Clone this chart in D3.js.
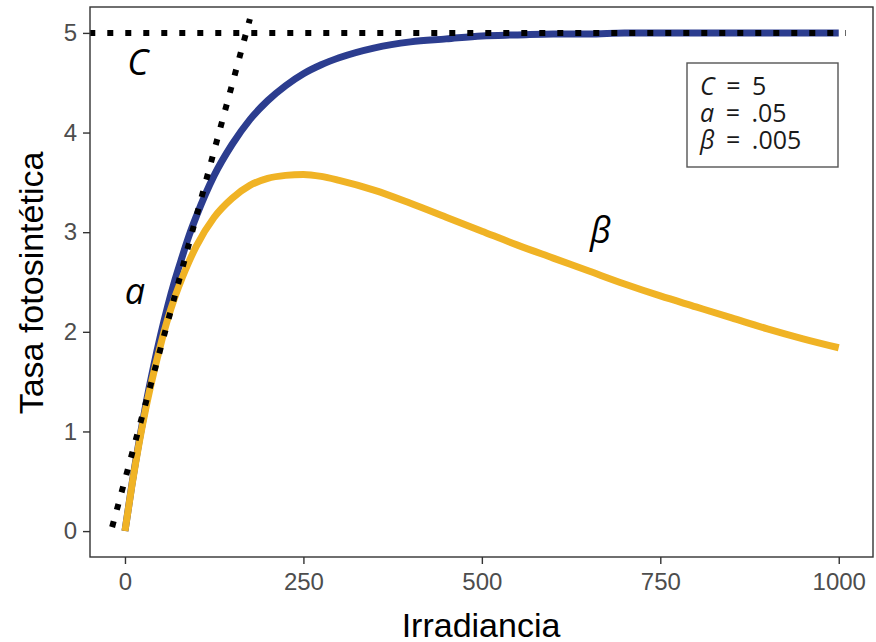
<!DOCTYPE html>
<html>
<head>
<meta charset="utf-8">
<script src="https://cdn.jsdelivr.net/npm/d3@7/dist/d3.min.js"></script>
<style>
  body { margin: 0; background: #fff; }
  svg { display: block; }
</style>
</head>
<body>
<svg width="876" height="642"></svg>
<script>
// irradiance values and the two curves
var irr = [0, 10, 20, 30, 40, 50, 60, 70, 80, 90, 100, 125, 150, 175, 200, 225, 250, 275, 300,
  350, 400, 450, 500, 550, 600, 650, 700, 750, 800, 850, 900, 950, 1000];
var rateSat = [0, 0.48, 0.91, 1.30, 1.65, 1.97, 2.26, 2.52, 2.75, 2.97, 3.16, 3.57, 3.88, 4.13, 4.32, 4.47, 4.59, 4.68, 4.75,
  4.85, 4.91, 4.94, 4.97, 4.98, 4.99, 4.99, 5.00, 5.00, 5.00, 5.00, 5.00, 5.00, 5.00];
var rateInhib = [0, 0.47, 0.89, 1.26, 1.58, 1.87, 2.13, 2.35, 2.54, 2.71, 2.86, 3.15, 3.34, 3.47, 3.54, 3.57, 3.58, 3.56, 3.52,
  3.42, 3.29, 3.15, 3.01, 2.87, 2.74, 2.61, 2.48, 2.36, 2.25, 2.14, 2.03, 1.93, 1.84];

// dotted guide lines
var slopeX = [-18, 175];
var slopeY = [0.04, 5.14];
var capX = [-50, 1010];
var capY = [5, 5];

// in-plot labels
var labels = ["C", "a", "\u03B2"];
var labelX = [18, 14, 666];
var labelY = [4.70, 2.41, 3.02];

// legend rows: italic symbol + value
var legSym = ["C", "a", "\u03B2"];
var legVal = [" = 5", " = .05", " = .005"];

var xTicks = [0, 250, 500, 750, 1000];
var yTicks = [0, 1, 2, 3, 4, 5];

var svg = d3.select("svg"),
    pLeft = 90, pRight = 873, pTop = 7, pBottom = 557;

var x = d3.scaleLinear().domain([-49, 1048]).range([pLeft, pRight]);
var y = d3.scaleLinear().domain([-0.26, 5.26]).range([pBottom, pTop]);

svg.append("defs").append("clipPath").attr("id", "panel")
  .append("rect").attr("x", pLeft).attr("y", pTop)
  .attr("width", pRight - pLeft).attr("height", pBottom - pTop);

var g = svg.append("g").attr("clip-path", "url(#panel)");

var line = d3.line()
  .x(function(d) { return x(d[0]); })
  .y(function(d) { return y(d[1]); })
  .curve(d3.curveMonotoneX);

g.append("path")
  .datum(irr.map(function(v, i) { return [v, rateSat[i]]; }))
  .attr("d", line)
  .attr("fill", "none")
  .attr("stroke", "#2c3d8f")
  .attr("stroke-width", 7);

g.append("path")
  .datum(irr.map(function(v, i) { return [v, rateInhib[i]]; }))
  .attr("d", line)
  .attr("fill", "none")
  .attr("stroke", "#f0b325")
  .attr("stroke-width", 7);

var straight = d3.line()
  .x(function(d) { return x(d[0]); })
  .y(function(d) { return y(d[1]); });

[[slopeX, slopeY], [capX, capY]].forEach(function(s) {
  g.append("path")
    .datum(s[0].map(function(v, i) { return [v, s[1][i]]; }))
    .attr("d", straight)
    .attr("fill", "none")
    .attr("stroke", "#000")
    .attr("stroke-width", 6)
    .attr("stroke-dasharray", "6,12");
});

// panel border
svg.append("rect")
  .attr("x", pLeft).attr("y", pTop)
  .attr("width", pRight - pLeft).attr("height", pBottom - pTop)
  .attr("fill", "none")
  .attr("stroke", "#333")
  .attr("stroke-width", 1.4);

// axes
var xAxis = svg.append("g")
  .attr("transform", "translate(0," + pBottom + ")")
  .call(d3.axisBottom(x).tickValues(xTicks).tickSize(7).tickPadding(4).tickFormat(d3.format("d")));
var yAxis = svg.append("g")
  .attr("transform", "translate(" + pLeft + ",0)")
  .call(d3.axisLeft(y).tickValues(yTicks).tickSize(7).tickPadding(6).tickFormat(d3.format("d")));

[xAxis, yAxis].forEach(function(a) {
  a.select(".domain").remove();
  a.selectAll(".tick line").attr("stroke", "#333").attr("stroke-width", 1.4);
  a.selectAll(".tick text")
    .attr("fill", "#4d4d4d")
    .style("font-family", "'Liberation Sans', Arial, sans-serif")
    .style("font-size", "24px");
});
xAxis.selectAll(".tick text").attr("dy", "0.9em");

// axis titles
svg.append("text")
  .attr("x", 481)
  .attr("y", 637)
  .attr("text-anchor", "middle")
  .style("font-family", "'Liberation Sans', Arial, sans-serif")
  .style("font-size", "34px")
  .text("Irradiancia");

svg.append("text")
  .attr("transform", "translate(43," + 283 + ") rotate(-90)")
  .attr("text-anchor", "middle")
  .style("font-family", "'Liberation Sans', Arial, sans-serif")
  .style("font-size", "34px")
  .text("Tasa fotosintética");

// annotations
svg.selectAll(".ann")
  .data(labels)
  .enter().append("text")
  .attr("class", "ann")
  .attr("x", function(d, i) { return x(labelX[i]); })
  .attr("y", function(d, i) { return y(labelY[i]); })
  .attr("text-anchor", "middle")
  .attr("dy", "0.35em")
  .style("font-family", "'Open Sans', 'Noto Sans', sans-serif")
  .style("font-style", "italic")
  .style("font-size", "36px")
  .text(function(d) { return d; });

// legend box
var leg = svg.append("g");
leg.append("rect")
  .attr("x", 687).attr("y", 63)
  .attr("width", 151).attr("height", 104)
  .attr("fill", "#fff")
  .attr("stroke", "#555")
  .attr("stroke-width", 1.4);

legSym.forEach(function(s, i) {
  var t = leg.append("text")
    .attr("x", 700)
    .attr("y", 95 + i * 27)
    .attr("fill", "#1a1a1a")
    .style("font-family", "'Open Sans', 'Noto Sans', sans-serif")
    .style("font-size", "25px")
    .style("word-spacing", "5px");
  t.append("tspan").style("font-style", "italic").text(s);
  t.append("tspan").text(legVal[i]);
});
</script>
</body>
</html>
